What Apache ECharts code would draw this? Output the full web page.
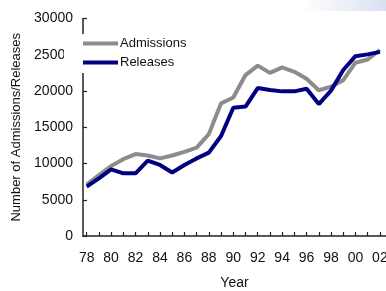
<!DOCTYPE html>
<html>
<head>
<meta charset="utf-8">
<script src="https://cdn.jsdelivr.net/npm/echarts@6/dist/echarts.min.js"></script>
<style>html,body{margin:0;padding:0;background:#fff}#c{width:386px;height:291px}</style>
</head>
<body>
<div id="c"></div>
<script>
var years = [78,79,80,81,82,83,84,85,86,87,88,89,90,91,92,93,94,95,96,97,98,99,100,101,102];
var labelYears = [78,80,82,84,86,88,90,92,94,96,98,100,102];
var admissions = [7100,8400,9650,10600,11300,11100,10700,11100,11600,12200,14050,18300,19100,22200,23500,22500,23250,22650,21700,20100,20600,21500,23900,24350,25650];
var releases = [6800,7950,9200,8650,8650,10400,9800,8750,9800,10700,11500,13800,17700,17850,20400,20150,19950,19950,20300,18200,20050,22900,24800,25050,25400];
var seriesNames = ['Admissions','Releases'];

function pairs(vals){ return years.map(function(y,i){ return [y, vals[i]]; }); }

var chart = echarts.init(document.getElementById('c'), null, {renderer:'canvas'});
var font = 'Arial, "Liberation Sans", sans-serif';
chart.setOption({
  animation:false,
  backgroundColor:'#fff',
  graphic:[{
    type:'rect', left:300, top:0, shape:{width:86,height:11}, z:-1,
    style:{fill:new echarts.graphic.LinearGradient(0,0,1,0,[{offset:0,color:'rgba(220,228,242,0)'},{offset:1,color:'#d8e0f0'}])}
  }],
  grid:{left:83, right:0, top:18.5, bottom:55, outerBoundsMode:'none', containLabel:false},
  legend:{
    orient:'vertical', left:64, top:34, padding:[3,4,4,19], itemGap:6,
    backgroundColor:'#fff', icon:'rect', itemWidth:35, itemHeight:4,
    textStyle:{fontFamily:font, fontSize:13, color:'#111', padding:[0,0,0,-3]},
    data:seriesNames
  },
  xAxis:{
    type:'value', min:77.7, max:102.5,
    name:'Year', nameLocation:'middle', nameGap:40,
    nameTextStyle:{fontFamily:font, fontSize:14, color:'#111'},
    axisLine:{lineStyle:{color:'#222', width:1.5}},
    axisTick:{inside:true, length:4, customValues:years, lineStyle:{color:'#222', width:1.2}},
    splitLine:{show:false},
    axisLabel:{margin:15, fontFamily:font, fontSize:14, color:'#111', hideOverlap:false, customValues:labelYears,
      formatter:function(v){ v=Math.round(v); var s=String(v%100); return s.length<2?'0'+s:s; }}
  },
  yAxis:{
    type:'value', min:0, max:30000, interval:5000,
    name:'Number of Admissions/Releases', nameLocation:'middle', nameGap:53,
    nameTextStyle:{fontFamily:font, fontSize:13, color:'#111'},
    axisLine:{show:true, lineStyle:{color:'#222', width:1.5}},
    axisTick:{show:true, inside:true, length:4, lineStyle:{color:'#222', width:1.2}},
    splitLine:{show:false},
    axisLabel:{margin:10, fontFamily:font, fontSize:14, color:'#111', formatter:function(v){ return String(v); }}
  },
  series:[
    {name:seriesNames[0], type:'line', data:pairs(admissions), symbol:'none', color:'#8c8c8c', lineStyle:{width:4, color:'#8c8c8c'}, z:2},
    {name:seriesNames[1], type:'line', data:pairs(releases), symbol:'none', color:'#000080', lineStyle:{width:4, color:'#000080'}, z:3}
  ]
});
</script>
</body>
</html>
